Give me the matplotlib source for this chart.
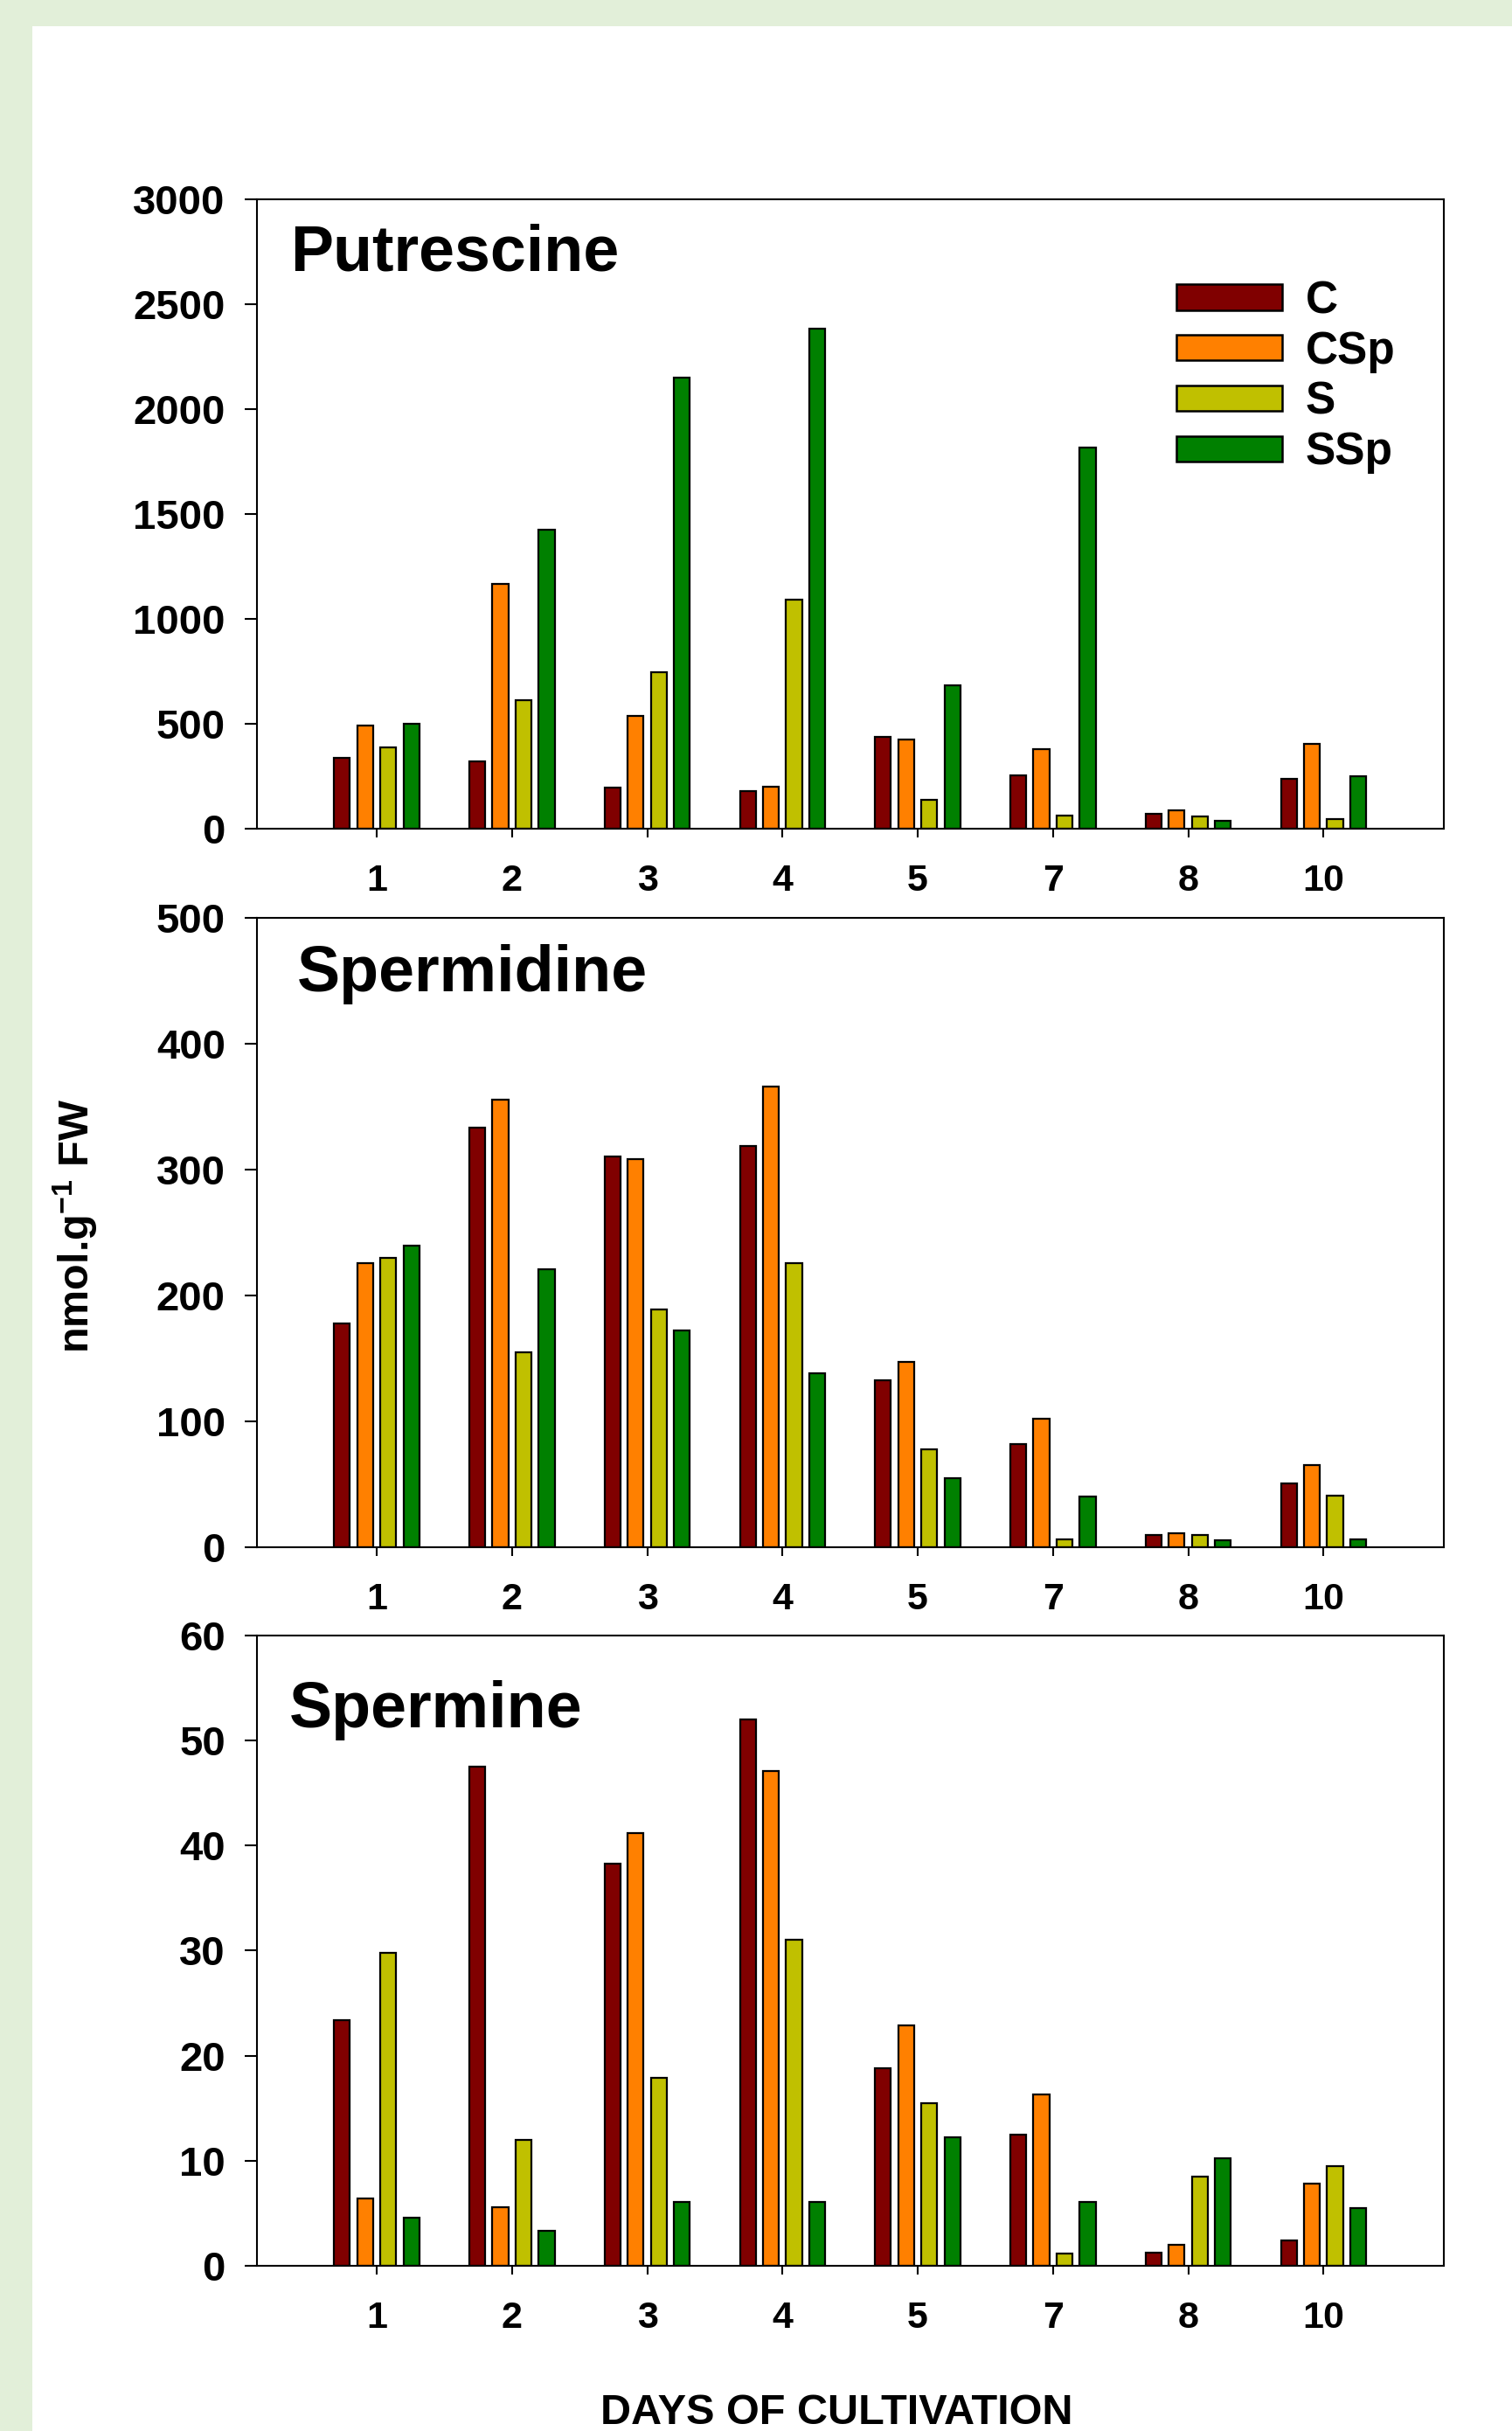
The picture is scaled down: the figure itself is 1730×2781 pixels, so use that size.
import matplotlib
matplotlib.use("Agg")
import matplotlib.pyplot as plt
import numpy as np
from matplotlib.patches import Patch, Rectangle

plt.rcParams['font.family'] = ['Liberation Sans', 'DejaVu Sans']
plt.rcParams['font.weight'] = 'bold'
plt.rcParams['mathtext.fontset'] = 'custom'
plt.rcParams['mathtext.rm'] = 'Liberation Sans:bold'
plt.rcParams['mathtext.bf'] = 'Liberation Sans:bold'
plt.rcParams['mathtext.default'] = 'bf'

days = ['1', '2', '3', '4', '5', '7', '8', '10']
series = ['C', 'CSp', 'S', 'SSp']
colors = ['#800000', '#FF8000', '#C0C000', '#008000']

putrescine = {
    'C':   [336, 321, 194, 179, 436, 254, 70, 236],
    'CSp': [492, 1165, 538, 200, 426, 380, 86, 405],
    'S':   [389, 612, 747, 1092, 136, 63, 57, 44],
    'SSp': [502, 1427, 2151, 2385, 683, 1815, 36, 251],
}
spermidine = {
    'C':   [177.7, 332.9, 310, 318.8, 132.6, 81.8, 9.7, 50.1],
    'CSp': [225.2, 355.5, 308, 365.5, 146.7, 101.7, 10.8, 65.3],
    'S':   [229.6, 154.9, 188.5, 225.2, 77.4, 5.7, 9.4, 41],
    'SSp': [239.3, 220.8, 171.7, 137.6, 54.5, 40.3, 5.0, 6.0],
}
spermine = {
    'C':   [23.4, 47.5, 38.3, 52.0, 18.8, 12.5, 1.2, 2.4],
    'CSp': [6.4, 5.6, 41.2, 47.1, 22.9, 16.3, 2.0, 7.8],
    'S':   [29.75, 12.0, 17.9, 31.0, 15.5, 1.13, 8.5, 9.45],
    'SSp': [4.6, 3.35, 6.06, 6.06, 12.2, 6.1, 10.2, 5.5],
}

panels = [
    ('Putrescine', putrescine, 3000, 500, (0.1699, 0.6591, 0.785, 0.2589), (0.028, 0.8875)),
    ('Spermidine', spermidine, 500, 100, (0.1699, 0.3637, 0.785, 0.2588), (0.034, 0.883)),
    ('Spermine', spermine, 60, 10, (0.1699, 0.0680, 0.785, 0.2593), (0.027, 0.854)),
]

W, H = 1730, 2781
fig = plt.figure(figsize=(W / 100, H / 100), dpi=100)
fig.patch.set_facecolor('#E2EFD9')
bg = Rectangle((37 / W, 0), 1 - 37 / W, 1 - 30 / H, transform=fig.transFigure,
               facecolor='white', edgecolor='none', zorder=-10)
fig.add_artist(bg)

pitch = 0.171
width = 0.117
x = np.arange(len(days))

for idx, (name, data, ymax, ystep, pos, tpos) in enumerate(panels):
    ax = fig.add_axes(pos)
    ax.set_facecolor('white')
    for i, s in enumerate(series):
        ax.bar(x + (i - 1.5) * pitch, data[s], width=width, color=colors[i],
               edgecolor='black', linewidth=1.6, zorder=2)
    ax.set_xlim(-0.886, 7.89)
    ax.set_ylim(0, ymax)
    ax.set_yticks(np.arange(0, ymax + ystep / 2, ystep))
    ax.set_xticks(x)
    ax.set_xticklabels(days)
    ax.tick_params(axis='y', direction='out', length=10, width=1.5, pad=16, labelsize=34)
    ax.tick_params(axis='x', direction='out', length=7, width=1.5, pad=22, labelsize=31)
    for lab in ax.get_xticklabels() + ax.get_yticklabels():
        lab.set_fontweight('bold')
    for sp in ax.spines.values():
        sp.set_linewidth(1.5)
    ax.text(tpos[0], tpos[1], name, transform=ax.transAxes, fontsize=53,
            fontweight='bold', ha='left', va='baseline')
    if idx == 0:
        handles = [Patch(facecolor=colors[i], edgecolor='black', linewidth=1.8, label=s)
                   for i, s in enumerate(series)]
        ax.legend(handles=handles, loc='upper left', bbox_to_anchor=(0.7747, 0.872),
                  frameon=False, borderaxespad=0, borderpad=0,
                  prop={'size': 37, 'weight': 'bold'},
                  handlelength=2.35, handleheight=0.5, handletextpad=0.52,
                  labelspacing=0.17)

fig.text(86 / W, 1 - 1403 / H, r'nmol.g$^{-1}$ FW', rotation=90, ha='center', va='center',
         fontsize=35, fontweight='bold')
fig.text(957 / W, 1 - 2773 / H, 'DAYS OF CULTIVATION', ha='center', va='baseline',
         fontsize=35, fontweight='bold')

fig.savefig('out.png', dpi=100, facecolor=fig.get_facecolor())
